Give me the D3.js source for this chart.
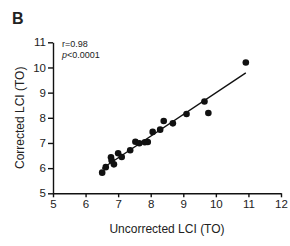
<!DOCTYPE html>
<html lang="en">
<head>
<meta charset="UTF-8">
<title>LCI correction scatter</title>
<script src="https://d3js.org/d3.v7.min.js"></script>
<style>
  body { margin: 0; background: #fff; }
  svg text { font-family: "Liberation Sans", Arial, sans-serif; fill: #222; }
</style>
</head>
<body>
<script>
const width = 290, height = 246;
const margin = {top: 42.3, right: 9, bottom: 52.7, left: 53};

const uncorrected = [6.51, 6.62, 6.78, 6.80, 6.87, 7.00, 7.11, 7.37, 7.53, 7.65, 7.82, 7.91, 8.06, 8.29, 8.40, 8.68, 9.10, 9.65, 9.77, 10.92];
const corrected   = [5.82, 6.04, 6.43, 6.30, 6.15, 6.59, 6.44, 6.71, 7.05, 6.99, 7.03, 7.04, 7.44, 7.53, 7.87, 7.78, 8.15, 8.65, 8.19, 10.20];
const xTicks = [5, 6, 7, 8, 9, 10, 11, 12];
const yTicks = [5, 6, 7, 8, 9, 10, 11];

const svg = d3.select("body").append("svg")
  .attr("width", width).attr("height", height);

const x = d3.scaleLinear().domain([5, 12]).range([margin.left, width - margin.right]);
const y = d3.scaleLinear().domain([5, 11]).range([height - margin.bottom, margin.top]);

// axes
const xAxis = svg.append("g")
  .attr("transform", `translate(0,${y(5)})`)
  .call(d3.axisBottom(x).tickValues(xTicks).tickFormat(d3.format("d"))
    .tickSize(4).tickSizeOuter(0).tickPadding(3));
const yAxis = svg.append("g")
  .attr("transform", `translate(${x(5)},0)`)
  .call(d3.axisLeft(y).tickValues(yTicks).tickFormat(d3.format("d"))
    .tickSize(5).tickSizeOuter(0).tickPadding(2));
[xAxis, yAxis].forEach(g => {
  g.selectAll("path, line").attr("stroke", "#111").attr("stroke-width", 1.4);
  g.selectAll("text").attr("font-size", 11.5).attr("fill", "#222")
    .style("font-family", "'Liberation Sans', Arial, sans-serif");
});

// regression line
const pts = uncorrected.map((u, i) => [u, corrected[i]]);
const mx = d3.mean(pts, d => d[0]), my = d3.mean(pts, d => d[1]);
const slope = d3.sum(pts, d => (d[0] - mx) * (d[1] - my)) / d3.sum(pts, d => (d[0] - mx) ** 2);
const icpt = my - slope * mx;
const [x0, x1] = d3.extent(uncorrected);
svg.append("line")
  .attr("x1", x(x0)).attr("y1", y(icpt + slope * x0))
  .attr("x2", x(x1)).attr("y2", y(icpt + slope * x1))
  .attr("stroke", "#111").attr("stroke-width", 1.4);

// points
svg.append("g").selectAll("circle")
  .data(pts).join("circle")
  .attr("cx", d => x(d[0])).attr("cy", d => y(d[1]))
  .attr("r", 3.3).attr("fill", "#111");

// labels
svg.append("text").attr("x", 12).attr("y", 24)
  .attr("font-size", 16).attr("font-weight", "bold").attr("fill", "#111").text("B");

const stats = svg.append("g").attr("font-size", 9);
stats.append("text").attr("x", 62).attr("y", 47).text("r=0.98");
const pt = stats.append("text").attr("x", 62).attr("y", 57.5);
pt.append("tspan").attr("font-style", "italic").text("p");
pt.append("tspan").text("<0.0001");

svg.append("text")
  .attr("x", (x(5) + x(12)) / 2).attr("y", 233)
  .attr("text-anchor", "middle").attr("font-size", 12).text("Uncorrected LCI (TO)");

svg.append("text")
  .attr("transform", `translate(24,${(y(5) + y(11)) / 2}) rotate(-90)`)
  .attr("text-anchor", "middle").attr("font-size", 12).text("Corrected LCI (TO)");
</script>
</body>
</html>
